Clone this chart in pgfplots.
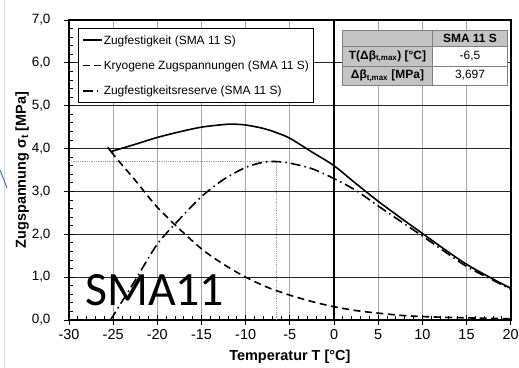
\documentclass[border=0pt]{standalone}
\usepackage{pgfplots}
\pgfplotsset{compat=1.18}
\usepackage{fontspec}
\setmainfont{Liberation Sans}
\newfontfamily\carlito{Carlito}
\definecolor{gridgray}{HTML}{A6A6A6}
\definecolor{tabgray}{HTML}{C4C4C4}
\definecolor{tabline}{HTML}{808080}
\definecolor{dotgray}{HTML}{A0A0A0}
\definecolor{artblue}{HTML}{4472C4}
\begin{document}
\begin{tikzpicture}
\begin{axis}[
  at={(0,0)}, anchor=south west,
  scale only axis, width=441.7bp, height=300bp,
  xmin=-30, xmax=20, ymin=0, ymax=7,
  xtick={-30,-25,...,20}, ytick={0,1,...,7},
  minor x tick num=4, minor y tick num=4,
  tick pos=left, tick align=inside,
  major tick length=5bp, minor tick length=4bp,
  extra x ticks={-30,-25,...,20}, extra y ticks={0,1,...,7},
  extra x tick labels={,,}, extra y tick labels={,,},
  extra tick style={tick align=outside, grid=none},
  xmajorgrids, ymajorgrids,
  x grid style={gridgray, line width=1.2bp},
  y grid style={black!85, line width=1.1bp},
  axis line style={black, line width=1.6bp},
  tick style={black, line width=0.9bp},
  /pgf/number format/assume math mode=true,
  xticklabel style={font=\fontsize{14.5}{16}\selectfont, yshift=-6bp, /pgf/number format/.cd, fixed, precision=0},
  yticklabel style={font=\fontsize{13.5}{16}\selectfont, xshift=-15bp, /pgf/number format/.cd, use comma, fixed, fixed zerofill, precision=1},
  xlabel={Temperatur T [°C]},
  ylabel={Zugspannung σ\textsubscript{t} [MPa]},
  label style={font=\fontsize{14.5}{16}\selectfont\bfseries},
  xlabel style={at={(axis description cs:0.5,-0.1223)}, anchor=center},
  ylabel style={at={(axis description cs:-0.106,0.5)}, anchor=center},
  legend style={at={(axis description cs:0.0197,0.9723)}, anchor=north west,
    draw=black, line width=0.9bp, fill=white, inner xsep=4bp, inner ysep=4.5bp,
    row sep=11.3bp, font=\fontsize{12}{14}\selectfont, cells={anchor=west},
    nodes={inner xsep=1bp, inner ysep=1bp, text height=10bp, text depth=2bp}},
  legend image code/.code={\draw[#1] (0bp,0bp) -- (19bp,0bp);},
]
\addplot[dotgray, densely dotted, line width=0.8bp, forget plot] coordinates {(-30,3.697) (-6.5,3.697)};
\addplot[dotgray, densely dotted, line width=0.8bp, forget plot] coordinates {(-6.5,0) (-6.5,3.697)};
\addplot[black, line width=1.3bp, forget plot] coordinates {(0,0) (0,7)};
\addplot[black, line width=1.6bp, forget plot] coordinates {(-25.6,4.03) (-25.25,3.93)};
\addplot[black, line width=1.6bp, smooth] coordinates {
 (-25.25,3.93) (-22.5,4.10) (-20,4.26) (-17.5,4.39) (-15,4.50) (-12.5,4.56) (-11.5,4.57)
 (-10,4.55) (-8,4.47) (-6.5,4.37) (-5,4.24) (-2.5,3.92) (0,3.60) (2.5,3.18) (5,2.77)
 (7.5,2.39) (10,2.02) (12.5,1.65) (15,1.30) (17.5,1.01) (20,0.74)};
\addlegendentry{Zugfestigkeit (SMA 11 S)}
\addplot[black, line width=1.6bp, smooth, dash pattern=on 7bp off 4.5bp] coordinates {
 (-25.25,3.93) (-24,3.62) (-22.5,3.26) (-20.8,2.82) (-20,2.63) (-18,2.22) (-15,1.66)
 (-12.5,1.30) (-10,1.00) (-7.5,0.76) (-5,0.58) (-2.5,0.43) (0,0.31) (2.5,0.22) (5,0.16)
 (7.5,0.11) (10,0.08) (15,0.05) (20,0.03)};
\addlegendentry{Kryogene Zugspannungen (SMA 11 S)}
\addplot[black, line width=1.6bp, smooth, dash pattern=on 10bp off 4bp on 1.5bp off 4bp] coordinates {
 (-25.35,0) (-25,0.10) (-22.5,0.93) (-20,1.77) (-17.5,2.35) (-15,2.88) (-12.5,3.28)
 (-10,3.56) (-8,3.68) (-6.5,3.697) (-5,3.66) (-2.5,3.53) (0,3.30) (2.5,3.02) (5,2.66)
 (7.5,2.31) (10,1.96) (12.5,1.60) (15,1.25) (17.5,0.98) (20,0.72)};
\addlegendentry{Zugfestigkeitsreserve (SMA 11 S)}
\end{axis}
% table
\fill[tabgray] (273.3bp,235bp) rectangle (363.7bp,290bp);
\fill[tabgray] (363.7bp,273.3bp) rectangle (438.3bp,290bp);
\fill[white] (363.7bp,235bp) rectangle (438.3bp,273.3bp);
\draw[tabline, line width=0.9bp] (273.3bp,235bp) rectangle (438.3bp,290bp);
\draw[tabline, line width=0.9bp] (363.7bp,235bp) -- (363.7bp,290bp);
\draw[tabline, line width=0.9bp] (273.3bp,273.3bp) -- (438.3bp,273.3bp);
\draw[tabline, line width=0.9bp] (273.3bp,254bp) -- (438.3bp,254bp);
\begin{scope}[every node/.style={font=\fontsize{12}{14}\selectfont, inner sep=0pt}]
\node[font=\fontsize{12}{14}\selectfont\bfseries] at (401bp,281.7bp) {SMA 11 S};
\node[font=\fontsize{12}{14}\selectfont\bfseries] at (318.5bp,263.7bp) {T(Δβ\textsubscript{t,max}) [°C]};
\node[font=\fontsize{12}{14}\selectfont\bfseries] at (318.5bp,244.5bp) {Δβ\textsubscript{t,max} [MPa]};
\node at (401bp,263.7bp) {-6,5};
\node at (401bp,244.5bp) {3,697};
\end{scope}
\node[font=\carlito\fontsize{48}{50}\selectfont, anchor=base west, inner sep=0pt] at (16bp,15bp) {SMA11};
% screenshot artefacts
\draw[black!15, line width=1bp] (-64bp,-48bp) -- (-64bp,320bp);
\draw[artblue, line width=1bp] (-69bp,150bp) -- (-62bp,132bp);
\pgfresetboundingbox
\path[use as bounding box] (-69bp,-48bp) rectangle (450bp,320bp);
\end{tikzpicture}
\end{document}
